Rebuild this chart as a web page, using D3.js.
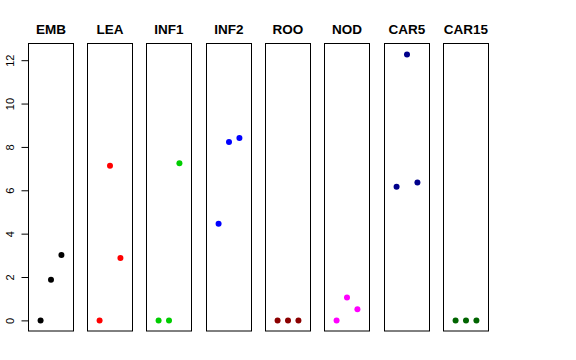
<!DOCTYPE html>
<html lang="en">
<head>
  <meta charset="UTF-8">
  <title>Panels</title>
  <style>
    body { margin: 0; background: #fff; }
    svg { display: block; }
    .title { font-family: "Liberation Sans", Arial, sans-serif; font-weight: bold; font-size: 13.5px; }
    .tick text { font-family: "Liberation Sans", Arial, sans-serif; font-size: 11px; }
  </style>
</head>
<body>
  <svg id="chart" width="576" height="360"></svg>
  <script src="https://d3js.org/d3.v7.min.js"></script>
  <script>
    // tissues, one panel each
    const tissues = ["EMB", "LEA", "INF1", "INF2", "ROO", "NOD", "CAR5", "CAR15"];
    const colors = ["#000000", "#ff0000", "#00cd00", "#0000ff", "#8b0000", "#ff00ff", "#00008b", "#006400"];
    // three replicates per tissue
    const EMB = [0, 1.87, 3.02];
    const LEA = [0, 7.13, 2.88];
    const INF1 = [0, 0, 7.25];
    const INF2 = [4.46, 8.23, 8.41];
    const ROO = [0, 0, 0];
    const NOD = [0, 1.06, 0.51];
    const CAR5 = [6.16, 12.26, 6.36];
    const CAR15 = [0, 0, 0];
    const values = [EMB, LEA, INF1, INF2, ROO, NOD, CAR5, CAR15];
    const yTicks = [0, 2, 4, 6, 8, 10, 12];

    const svg = d3.select("#chart");

    const panel = d3.scaleBand()
      .domain(tissues)
      .range([28.3, 488.3])
      .paddingInner(0.241)
      .paddingOuter(0);

    const y = d3.scaleLinear()
      .domain([-0.49, 12.77])
      .range([331, 43.5]);

    // x inside each panel: replicate index 1..3 on a 0..4 range
    const x = d3.scaleLinear()
      .domain([-0.16, 4.16])
      .range([0, panel.bandwidth()]);

    svg.append("g")
      .attr("transform", "translate(28.5,0)")
      .call(d3.axisLeft(y).tickValues(yTicks).tickSize(7).tickPadding(4))
      .call(g => g.select(".domain").remove())
      .call(g => g.selectAll(".tick text")
        .attr("transform", "rotate(-90)")
        .attr("x", 0)
        .attr("y", -18)
        .attr("dy", "0.35em")
        .style("text-anchor", "middle"));

    tissues.forEach((t, i) => {
      const g = svg.append("g")
        .attr("transform", `translate(${Math.floor(panel(t)) + 0.5},0)`);

      g.append("rect")
        .attr("x", 0)
        .attr("y", 43.5)
        .attr("width", Math.round(panel.bandwidth()))
        .attr("height", 331 - 43.5)
        .attr("fill", "none")
        .attr("stroke", "#000")
        .attr("stroke-width", 1);

      g.append("text")
        .attr("class", "title")
        .attr("x", panel.bandwidth() / 2)
        .attr("y", 34)
        .attr("text-anchor", "middle")
        .text(t);

      g.selectAll("circle")
        .data(values[i])
        .join("circle")
        .attr("cx", (d, j) => x(j + 1))
        .attr("cy", d => y(d))
        .attr("r", 3)
        .attr("fill", colors[i]);
    });
  </script>
</body>
</html>
